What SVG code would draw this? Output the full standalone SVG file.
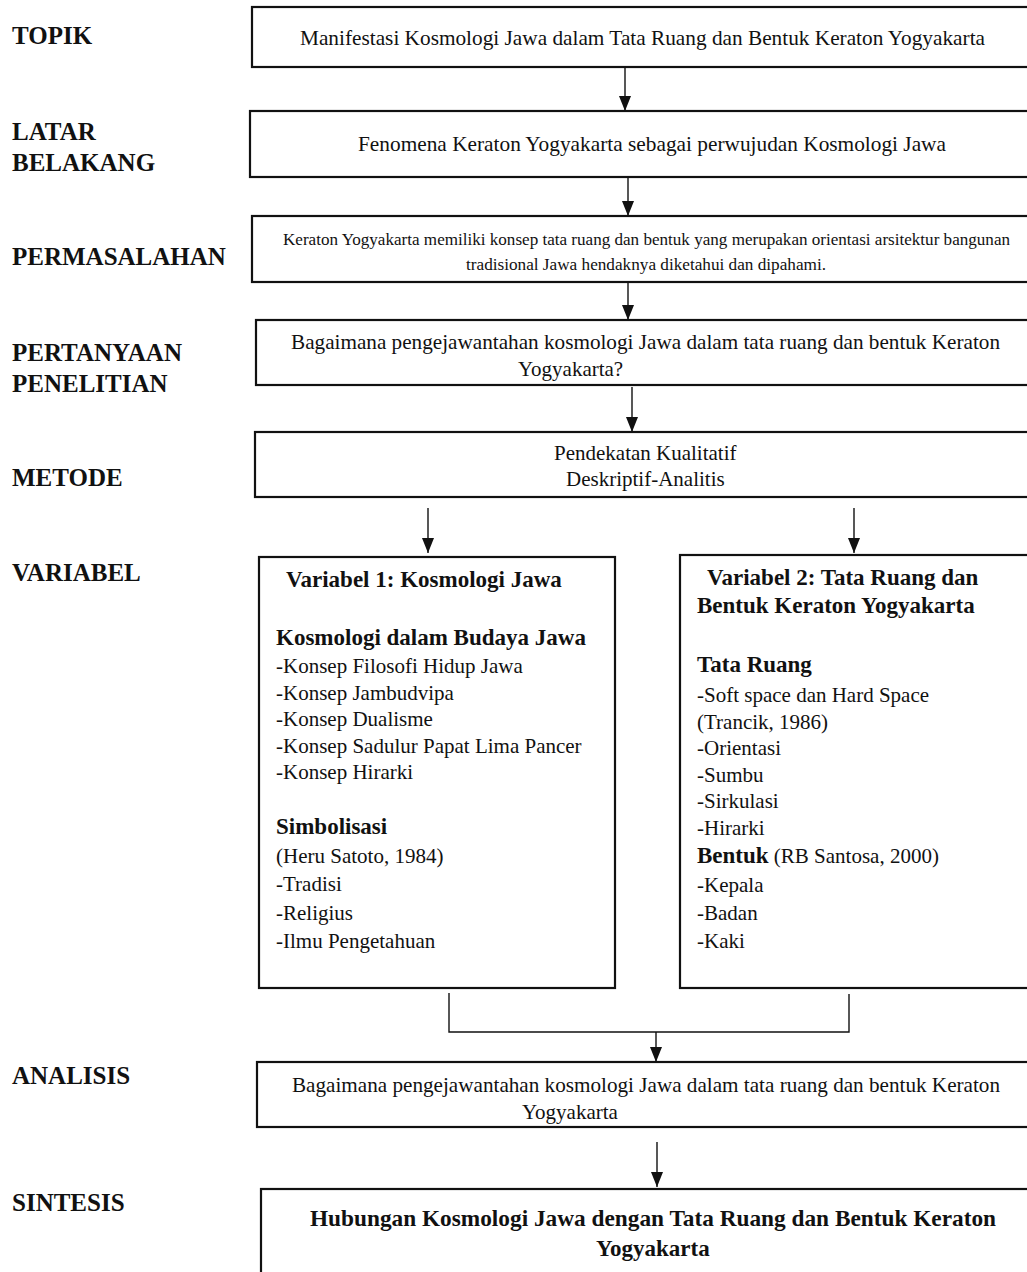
<svg xmlns="http://www.w3.org/2000/svg" width="1027" height="1272" viewBox="0 0 1027 1272">
<defs>
<style>
.bg{fill:#ffffff}
.box{fill:#ffffff;stroke:#111;stroke-width:2.2}
.lbl{font-family:"Liberation Serif","Times New Roman",serif;font-weight:bold;font-size:25px;fill:#111}
.t{font-family:"Liberation Serif","Times New Roman",serif;font-size:21px;fill:#111}
.ts{font-family:"Liberation Serif","Times New Roman",serif;font-size:17px;fill:#111}
.tb{font-family:"Liberation Serif","Times New Roman",serif;font-size:23px;font-weight:bold;fill:#111}
.c{fill:none;stroke:#111;stroke-width:1.4}
</style>
<marker id="ah" markerUnits="userSpaceOnUse" markerWidth="16" markerHeight="12" refX="15" refY="6" orient="auto" viewBox="0 0 16 12">
<path d="M0,0 L15,6 L0,12 Z" fill="#111"/>
</marker>
</defs>
<rect class="bg" x="0" y="0" width="1027" height="1272"/>

<g id="labels">
<text class="lbl" x="12" y="44">TOPIK</text>
<text class="lbl" x="12" y="140">LATAR</text>
<text class="lbl" x="12" y="171">BELAKANG</text>
<text class="lbl" x="12" y="265">PERMASALAHAN</text>
<text class="lbl" x="12" y="361">PERTANYAAN</text>
<text class="lbl" x="12" y="392">PENELITIAN</text>
<text class="lbl" x="12" y="486">METODE</text>
<text class="lbl" x="12" y="581">VARIABEL</text>
<text class="lbl" x="12" y="1084">ANALISIS</text>
<text class="lbl" x="12" y="1211">SINTESIS</text>
</g>

<g id="connectors">
<line class="c" x1="625" y1="68" x2="625" y2="111" marker-end="url(#ah)"/>
<line class="c" x1="628" y1="178" x2="628" y2="216" marker-end="url(#ah)"/>
<line class="c" x1="628" y1="283" x2="628" y2="320" marker-end="url(#ah)"/>
<line class="c" x1="632" y1="387" x2="632" y2="432" marker-end="url(#ah)"/>
<line class="c" x1="428" y1="508" x2="428" y2="553" marker-end="url(#ah)"/>
<line class="c" x1="854" y1="508" x2="854" y2="553" marker-end="url(#ah)"/>
<polyline class="c" points="449,993 449,1032 849,1032 849,994"/>
<line class="c" x1="656" y1="1032" x2="656" y2="1062" marker-end="url(#ah)"/>
<line class="c" x1="657" y1="1142" x2="657" y2="1187" marker-end="url(#ah)"/>
</g>

<g id="topik">
<rect class="box" x="252" y="7" width="800" height="60"/>
<text class="t" x="300" y="45" textLength="685" lengthAdjust="spacingAndGlyphs">Manifestasi Kosmologi Jawa dalam Tata Ruang dan Bentuk Keraton Yogyakarta</text>
</g>

<g id="latar">
<rect class="box" x="250" y="111" width="800" height="66"/>
<text class="t" x="358" y="151" textLength="588" lengthAdjust="spacingAndGlyphs">Fenomena Keraton Yogyakarta sebagai perwujudan Kosmologi Jawa</text>
</g>

<g id="permasalahan">
<rect class="box" x="252" y="216" width="800" height="66"/>
<text class="ts" x="283" y="245" textLength="727" lengthAdjust="spacingAndGlyphs">Keraton Yogyakarta memiliki konsep tata ruang dan bentuk yang merupakan orientasi arsitektur bangunan</text>
<text class="ts" x="466" y="270" textLength="360" lengthAdjust="spacingAndGlyphs">tradisional Jawa hendaknya diketahui dan dipahami.</text>
</g>

<g id="pertanyaan">
<rect class="box" x="256" y="320" width="800" height="65"/>
<text class="t" x="291" y="349" textLength="709" lengthAdjust="spacingAndGlyphs">Bagaimana pengejawantahan kosmologi Jawa dalam tata ruang dan bentuk Keraton</text>
<text class="t" x="518" y="376">Yogyakarta?</text>
</g>

<g id="metode">
<rect class="box" x="255" y="432" width="800" height="65"/>
<text class="t" x="554" y="460">Pendekatan Kualitatif</text>
<text class="t" x="566" y="486">Deskriptif-Analitis</text>
</g>

<g id="variabel1">
<rect class="box" x="259" y="557" width="356" height="431"/>
<text class="tb" x="286" y="587">Variabel 1: Kosmologi Jawa</text>
<text class="tb" x="276" y="645">Kosmologi dalam Budaya Jawa</text>
<text class="t" x="276" y="673">-Konsep Filosofi Hidup Jawa</text>
<text class="t" x="276" y="700">-Konsep Jambudvipa</text>
<text class="t" x="276" y="726">-Konsep Dualisme</text>
<text class="t" x="276" y="753">-Konsep Sadulur Papat Lima Pancer</text>
<text class="t" x="276" y="779">-Konsep Hirarki</text>
<text class="tb" x="276" y="834">Simbolisasi</text>
<text class="t" x="276" y="863">(Heru Satoto, 1984)</text>
<text class="t" x="276" y="891">-Tradisi</text>
<text class="t" x="276" y="920">-Religius</text>
<text class="t" x="276" y="948">-Ilmu Pengetahuan</text>
</g>

<g id="variabel2">
<rect class="box" x="680" y="555" width="380" height="433"/>
<text class="tb" x="707" y="585">Variabel 2: Tata Ruang dan</text>
<text class="tb" x="697" y="613">Bentuk Keraton Yogyakarta</text>
<text class="tb" x="697" y="672">Tata Ruang</text>
<text class="t" x="697" y="702">-Soft space dan Hard Space</text>
<text class="t" x="697" y="729">(Trancik, 1986)</text>
<text class="t" x="697" y="755">-Orientasi</text>
<text class="t" x="697" y="782">-Sumbu</text>
<text class="t" x="697" y="808">-Sirkulasi</text>
<text class="t" x="697" y="835">-Hirarki</text>
<text class="t" x="697" y="863"><tspan class="tb">Bentuk</tspan> (RB Santosa, 2000)</text>
<text class="t" x="697" y="892">-Kepala</text>
<text class="t" x="697" y="920">-Badan</text>
<text class="t" x="697" y="948">-Kaki</text>
</g>

<g id="analisis">
<rect class="box" x="257" y="1062" width="800" height="65"/>
<text class="t" x="292" y="1092" textLength="708" lengthAdjust="spacingAndGlyphs">Bagaimana pengejawantahan kosmologi Jawa dalam tata ruang dan bentuk Keraton</text>
<text class="t" x="522" y="1119">Yogyakarta</text>
</g>

<g id="sintesis">
<rect class="box" x="261" y="1189" width="800" height="120"/>
<text class="tb" x="310" y="1226" textLength="686" lengthAdjust="spacingAndGlyphs">Hubungan Kosmologi Jawa dengan Tata Ruang dan Bentuk Keraton</text>
<text class="tb" x="596" y="1256">Yogyakarta</text>
</g>
</svg>
